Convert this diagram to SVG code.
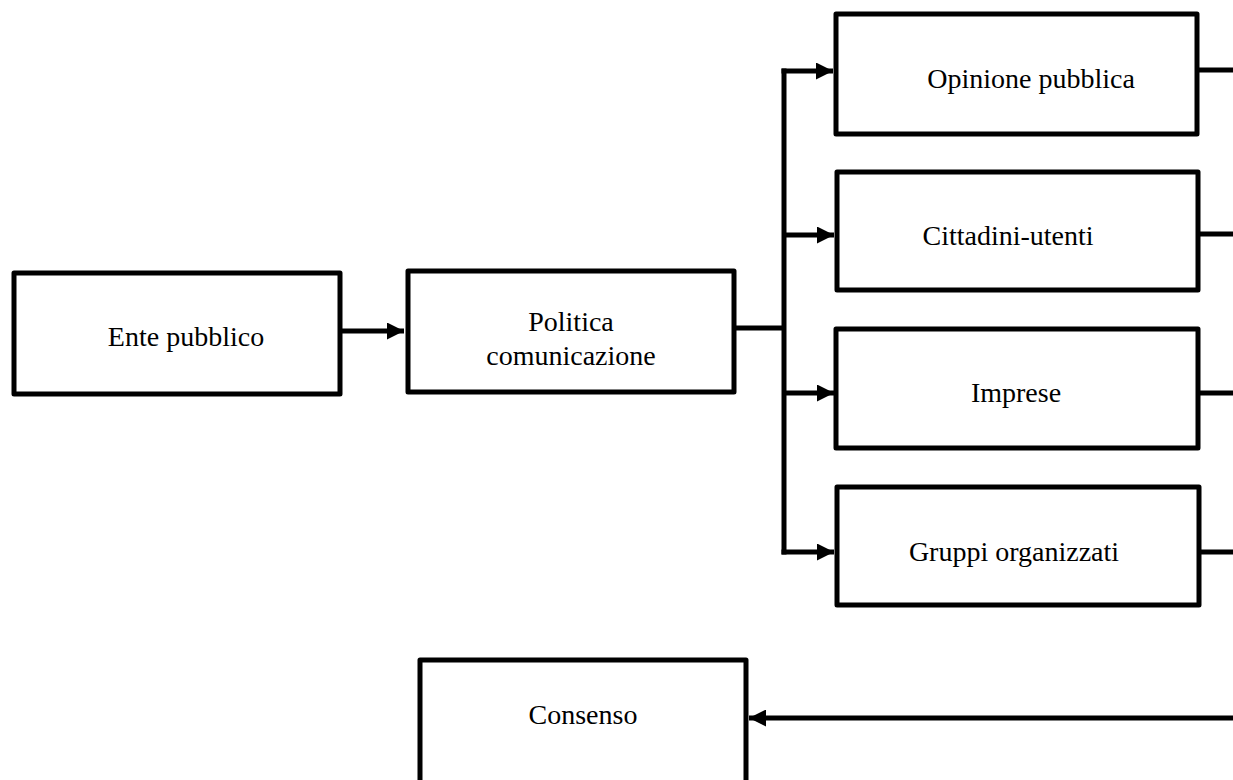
<svg xmlns="http://www.w3.org/2000/svg" width="1233" height="780" viewBox="0 0 1233 780">
  <defs>
    <style>
      .box { fill: #ffffff; stroke: #000000; stroke-width: 5; stroke-linejoin: round; }
      .link { fill: none; stroke: #000000; stroke-width: 5; stroke-linejoin: miter; }
      .label { font-family: "Liberation Serif", "Times New Roman", serif; font-size: 28px; fill: #000000; text-anchor: middle; dominant-baseline: central; }
    </style>
    <marker id="arrow" viewBox="0 0 16 16" refX="16" refY="8" markerWidth="17" markerHeight="17" markerUnits="userSpaceOnUse" orient="auto">
      <path d="M0,0 L16,8 L0,16 Z" fill="#000000"/>
    </marker>
  </defs>

  <g id="connectors">
    <path class="link" d="M340,331 H404" marker-end="url(#arrow)"/>
    <path class="link" d="M734,328 H784"/>
    <path class="link" d="M784,68.5 V554.5"/>
    <path class="link" d="M781.5,71 H833" marker-end="url(#arrow)"/>
    <path class="link" d="M784,235 H834" marker-end="url(#arrow)"/>
    <path class="link" d="M784,393 H834" marker-end="url(#arrow)"/>
    <path class="link" d="M781.5,552 H834" marker-end="url(#arrow)"/>
    <path class="link" d="M1197,70 H1233"/>
    <path class="link" d="M1198,234 H1233"/>
    <path class="link" d="M1198,393 H1233"/>
    <path class="link" d="M1199,552 H1233"/>
    <path class="link" d="M1233,718 H749" marker-end="url(#arrow)"/>
  </g>

  <g id="ente-pubblico">
    <rect class="box" x="14" y="273" width="326" height="121"/>
    <text class="label" x="186" y="336">Ente pubblico</text>
  </g>

  <g id="politica-comunicazione">
    <rect class="box" x="408" y="271" width="326" height="121"/>
    <text class="label" x="571" y="321">Politica</text>
    <text class="label" x="571" y="355">comunicazione</text>
  </g>

  <g id="opinione-pubblica">
    <rect class="box" x="836" y="14" width="361" height="120"/>
    <text class="label" x="1031" y="78">Opinione pubblica</text>
  </g>

  <g id="cittadini-utenti">
    <rect class="box" x="837" y="172" width="361" height="118"/>
    <text class="label" x="1008" y="235">Cittadini-utenti</text>
  </g>

  <g id="imprese">
    <rect class="box" x="836" y="329" width="362" height="119"/>
    <text class="label" x="1016" y="392">Imprese</text>
  </g>

  <g id="gruppi-organizzati">
    <rect class="box" x="837" y="487" width="362" height="118"/>
    <text class="label" x="1014" y="551">Gruppi organizzati</text>
  </g>

  <g id="consenso">
    <rect class="box" x="420" y="660" width="326" height="140"/>
    <text class="label" x="583" y="714">Consenso</text>
  </g>
</svg>
